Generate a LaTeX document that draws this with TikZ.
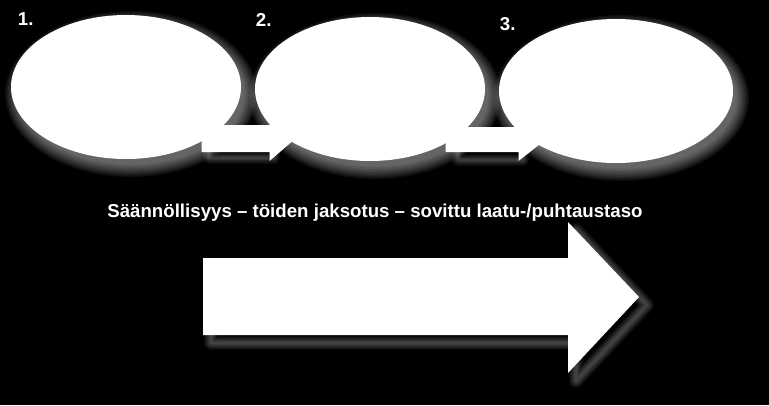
\documentclass[tikz,border=0pt]{standalone}
\usepackage{fontspec}
\setmainfont{Liberation Sans}
\usetikzlibrary{shapes.geometric,calc}

\tikzset{every picture/.style={line width=0.75pt}}
\tikzset{
  bubble/.style={ellipse,fill=white,inner sep=0pt,minimum width=172.5pt,minimum height=108pt},
  glow/.style={fill=white,fill opacity=0.05},
  glowline/.style={draw=white,draw opacity=0.04,line join=round},
  steplabel/.style={text=white,font=\bfseries\fontsize{14}{17}\selectfont}
}

\begin{document}
\begin{tikzpicture}[x=0.75pt,y=0.75pt,yscale=-1,xscale=1]
%Background
\fill[black] (0,0) rectangle (769,405);
\useasboundingbox (0,0) rectangle (769,405);

%Centres of the bubbles
\coordinate (c1) at (126,87);
\coordinate (c2) at (370,89);
\coordinate (c3) at (616,91);

%Glow under the bubbles
\foreach \k in {1,...,10} {
  \fill[glow] ($(c1)+(5,7)$) ellipse [x radius=112+1.4*\k, y radius=69+1.4*\k];
  \fill[glow] ($(c2)+(5,7)$) ellipse [x radius=112+1.4*\k, y radius=69+1.4*\k];
  \fill[glow] ($(c3)+(5,7)$) ellipse [x radius=114+1.4*\k, y radius=69+1.4*\k];
}

%Glow under the small arrows
\foreach \k in {1,...,7} {
  \draw[glowline,line width=1.2*\k] (209,131) -- (274,131) -- (274,158) -- (209,158) -- cycle;
  \draw[glowline,line width=1.2*\k] (458,133) -- (523,133) -- (523,160) -- (458,160) -- cycle;
}

%Shape: Bubbles
\node[bubble] (e1) at (c1) {};
\node[bubble] (e2) at (c2) {};
\node[bubble,minimum width=175.5pt] (e3) at (c3) {};

%Small arrows between the bubbles
\fill[white] ($(e1.east)+(-40,38)$) -- ($(e2.west)+(15,36)$) -- ($(e2.west)+(15,27)$) -- ($(e2.west)+(41,49.5)$) -- ($(e2.west)+(15,72)$) -- ($(e2.west)+(15,63)$) -- ($(e1.east)+(-40,65)$) -- cycle;
\fill[white] ($(e2.east)+(-40,38)$) -- ($(e3.west)+(20,36)$) -- ($(e3.west)+(20,27)$) -- ($(e3.west)+(46,49.5)$) -- ($(e3.west)+(20,70)$) -- ($(e3.west)+(20,61)$) -- ($(e2.east)+(-40,63)$) -- cycle;

%Glow under the big arrow
\foreach \k in {1,...,8} {
  \draw[glowline,line width=1.3*\k] (211,266) -- (576,266) -- (576,230) -- (647,305) -- (576,381) -- (576,343) -- (211,343) -- cycle;
}

%Shape: Big arrow
\fill[white] (203,258) -- (568,258) -- (568,222) -- (639,297) -- (568,373) -- (568,335) -- (203,335) -- cycle;

% Text Node
\node[steplabel,anchor=base west] (n1) at (13,25) {1.};
% Text Node
\node[steplabel,anchor=base west] (n2) at (251,26) {2.};
% Text Node
\node[steplabel,anchor=base west] (n3) at (495,30) {3.};
% Text Node
\node[steplabel,anchor=base] (title) at (375,217) {Säännöllisyys – töiden jaksotus – sovittu laatu-/puhtaustaso};

\end{tikzpicture}
\end{document}
